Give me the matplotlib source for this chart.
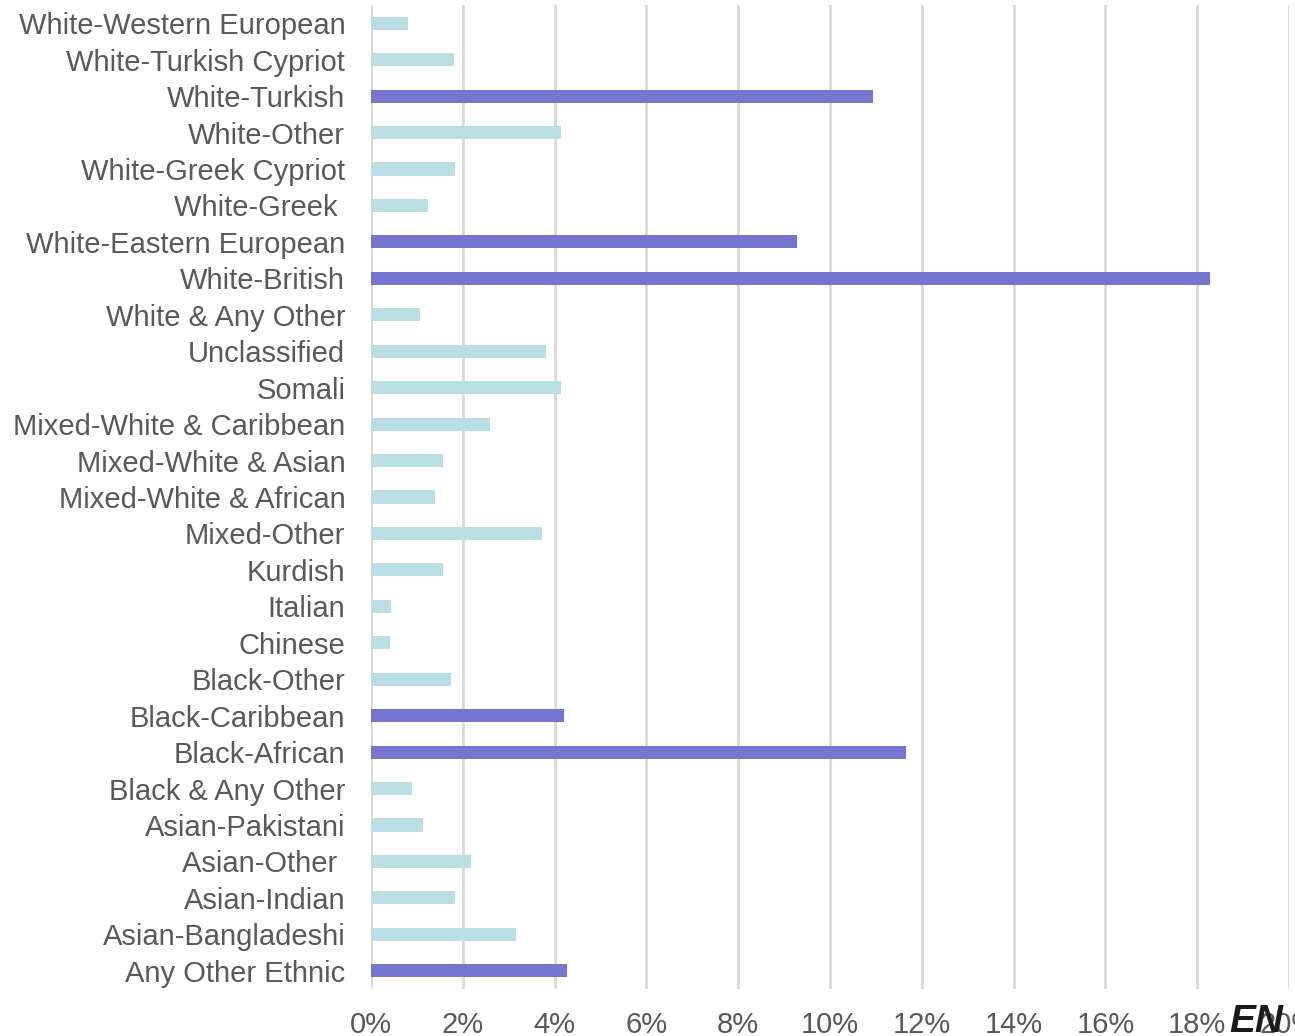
import matplotlib.pyplot as plt
import numpy as np
from matplotlib.ticker import PercentFormatter

plt.rcParams['font.family'] = ['Liberation Sans', 'DejaVu Sans']

# ethnic groups, listed top to bottom
groups = [
    "White-Western European", "White-Turkish Cypriot", "White-Turkish",
    "White-Other", "White-Greek Cypriot", "White-Greek ",
    "White-Eastern European", "White-British", "White & Any Other",
    "Unclassified", "Somali", "Mixed-White & Caribbean",
    "Mixed-White & Asian", "Mixed-White & African", "Mixed-Other",
    "Kurdish", "Italian", "Chinese", "Black-Other", "Black-Caribbean",
    "Black-African", "Black & Any Other", "Asian-Pakistani", "Asian-Other ",
    "Asian-Indian", "Asian-Bangladeshi", "Any Other Ethnic",
]
# share of total, in percent
share = [
    0.81, 1.81, 10.94,
    4.14, 1.83, 1.24,
    9.28, 18.28, 1.07,
    3.81, 4.14, 2.59,
    1.57, 1.39, 3.73,
    1.57, 0.44, 0.41, 1.74, 4.20,
    11.66, 0.89, 1.13, 2.18,
    1.83, 3.16, 4.27,
]
highlight = ["White-Turkish", "White-Eastern European", "White-British",
             "Black-Caribbean", "Black-African", "Any Other Ethnic"]

c_hi = '#7675cf'
c_lo = '#badfe2'
colors = [c_hi if g.strip() in highlight else c_lo for g in groups]

fig = plt.figure(figsize=(12.95, 10.36), dpi=100)
ax = fig.add_axes([371 / 1295, 1 - 989 / 1036, (1289 - 371) / 1295, (989 - 5) / 1036])

y = np.arange(len(groups))
ax.barh(y, share, height=0.36, color=colors, zorder=3)

ax.set_ylim(len(groups) - 0.5, -0.5)
ax.set_yticks(y)
ax.set_yticklabels(groups)
ax.set_xlim(0, 20)
ax.set_xticks(np.arange(0, 21, 2))
ax.xaxis.set_major_formatter(PercentFormatter(decimals=0))

ax.grid(axis='x', color='#d9d9d9', linewidth=2, zorder=0)
for s in ax.spines.values():
    s.set_visible(False)
ax.tick_params(axis='both', length=0, labelsize=21, labelcolor='#595959')
ax.tick_params(axis='y', pad=18.5)
ax.tick_params(axis='x', pad=16)

# logo in the lower right corner
fig.text(1229 / 1295, -0.004, "EN", fontsize=28, fontweight='bold', style='italic',
         color='#1a1a1a', ha='left', va='bottom')

fig.savefig('out.png', dpi=100)
